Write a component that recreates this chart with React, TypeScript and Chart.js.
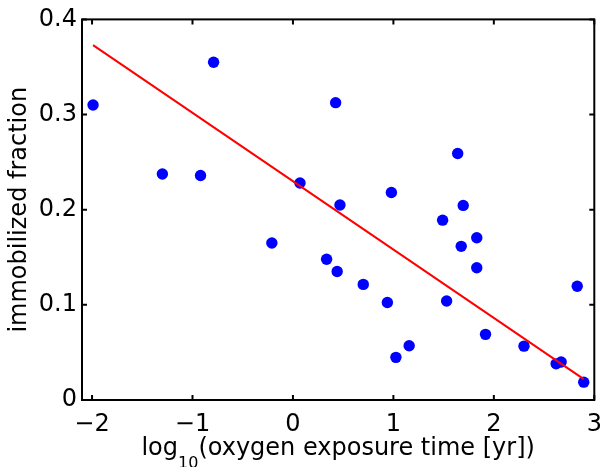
import React, { useEffect, useRef } from "react";
import { Chart, registerables } from "chart.js";

Chart.register(...registerables);

const xVals = [-1.99, -1.30, -0.92, -0.79, -0.21, 0.07, 0.335, 0.425, 0.44, 0.468, 0.70, 0.94, 0.98, 1.025, 1.157, 1.49, 1.53, 1.64, 1.675, 1.695, 1.83, 1.83, 1.917, 2.30, 2.62, 2.67, 2.83, 2.895];
const yVals = [0.310, 0.2375, 0.236, 0.355, 0.165, 0.228, 0.148, 0.3125, 0.135, 0.205, 0.1215, 0.1025, 0.218, 0.0448, 0.057, 0.189, 0.104, 0.259, 0.1615, 0.2045, 0.1705, 0.139, 0.069, 0.0566, 0.038, 0.040, 0.1195, 0.01875];
const fitX = [-1.99, 2.895];
const fitY = [0.373, 0.022];
const xTicks = [-2, -1, 0, 1, 2, 3];
const yTicks = [0, 0.1, 0.2, 0.3, 0.4];
const xTitleMain = "log";
const xTitleSub = "10";
const xTitleRest = "(oxygen exposure time [yr])";
const yTitle = "immobilized fraction";

const FONT = "'DejaVu Sans', 'Liberation Sans', sans-serif";

const fmt = (v: number) => {
  const s = String(Math.round(v * 10) / 10);
  return s.replace("-", "\u2212");
};

const framePlugin = {
  id: "frame",
  afterDraw(chart: any) {
    const { ctx, chartArea } = chart;
    const { left, right, top, bottom } = chartArea;
    const xs = chart.scales.x;
    const ys = chart.scales.y;
    ctx.save();
    ctx.strokeStyle = "#000";
    ctx.lineWidth = 2;
    ctx.strokeRect(left, top, right - left, bottom - top);
    const tl = 5;
    ctx.beginPath();
    xTicks.forEach((v) => {
      const px = xs.getPixelForValue(v);
      ctx.moveTo(px, bottom);
      ctx.lineTo(px, bottom - tl);
      ctx.moveTo(px, top);
      ctx.lineTo(px, top + tl);
    });
    yTicks.forEach((v) => {
      const py = ys.getPixelForValue(v);
      ctx.moveTo(left, py);
      ctx.lineTo(left + tl, py);
      ctx.moveTo(right, py);
      ctx.lineTo(right - tl, py);
    });
    ctx.stroke();

    // x title with subscript
    ctx.fillStyle = "#000";
    ctx.textBaseline = "alphabetic";
    ctx.textAlign = "left";
    const mainFont = `24px ${FONT}`;
    const subFont = `16px ${FONT}`;
    ctx.font = mainFont;
    const w1 = ctx.measureText(xTitleMain).width;
    const w3 = ctx.measureText(xTitleRest).width;
    ctx.font = subFont;
    const w2 = ctx.measureText(xTitleSub).width;
    const total = w1 + w2 + w3;
    const cx = (left + right) / 2;
    const x0 = cx - total / 2;
    const base = 455;
    ctx.font = mainFont;
    ctx.fillText(xTitleMain, x0, base);
    ctx.font = subFont;
    ctx.fillText(xTitleSub, x0 + w1, base + 13);
    ctx.font = mainFont;
    ctx.fillText(xTitleRest, x0 + w1 + w2, base);

    // y title
    ctx.save();
    ctx.translate(26, (top + bottom) / 2);
    ctx.rotate(-Math.PI / 2);
    ctx.textAlign = "center";
    ctx.font = mainFont;
    ctx.fillText(yTitle, 0, 0);
    ctx.restore();
    ctx.restore();
  },
};

export default function App() {
  const ref = useRef<HTMLCanvasElement>(null);
  useEffect(() => {
    if (!ref.current) return;
    const chart = new Chart(ref.current, {
      type: "scatter",
      data: {
        datasets: [
          {
            type: "line",
            data: fitX.map((x, i) => ({ x, y: fitY[i] })),
            borderColor: "#ff0000",
            borderWidth: 2,
            pointRadius: 0,
            fill: false,
          } as any,
          {
            type: "scatter",
            data: xVals.map((x, i) => ({ x, y: yVals[i] })),
            backgroundColor: "#0000ff",
            borderWidth: 0,
            pointRadius: 5.7,
          },
        ],
      },
      options: {
        animation: false,
        responsive: true,
        maintainAspectRatio: false,
        layout: { padding: { top: 16, right: 5.5, left: 0, bottom: 0 } },
        plugins: { legend: { display: false }, tooltip: { enabled: false } },
        scales: {
          x: {
            type: "linear",
            min: -2.1,
            max: 3,
            afterBuildTicks: (s: any) => {
              s.ticks = xTicks.map((v) => ({ value: v }));
            },
            afterFit: (s: any) => {
              s.height = 67;
              s.paddingLeft = 0;
              s.paddingRight = 0;
            },
            ticks: {
              callback: (v: any) => fmt(Number(v)),
              color: "#000",
              font: { family: FONT, size: 24 },
              padding: 10,
              maxRotation: 0,
              autoSkip: false,
            },
            grid: { display: false, drawTicks: false },
            border: { display: false },
          },
          y: {
            type: "linear",
            min: 0,
            max: 0.4,
            afterBuildTicks: (s: any) => {
              s.ticks = yTicks.map((v) => ({ value: v }));
            },
            afterFit: (s: any) => {
              s.width = 82;
            },
            ticks: {
              callback: (v: any) => fmt(Number(v)),
              color: "#000",
              font: { family: FONT, size: 24 },
              padding: 5,
              autoSkip: false,
            },
            grid: { display: false, drawTicks: false },
            border: { display: false },
          },
        },
      },
      plugins: [framePlugin],
    });
    return () => chart.destroy();
  }, []);
  return (
    <div style={{ position: "absolute", left: 0, top: 0, width: 600, height: 467, background: "#fff" }}>
      <canvas ref={ref} />
    </div>
  );
}
